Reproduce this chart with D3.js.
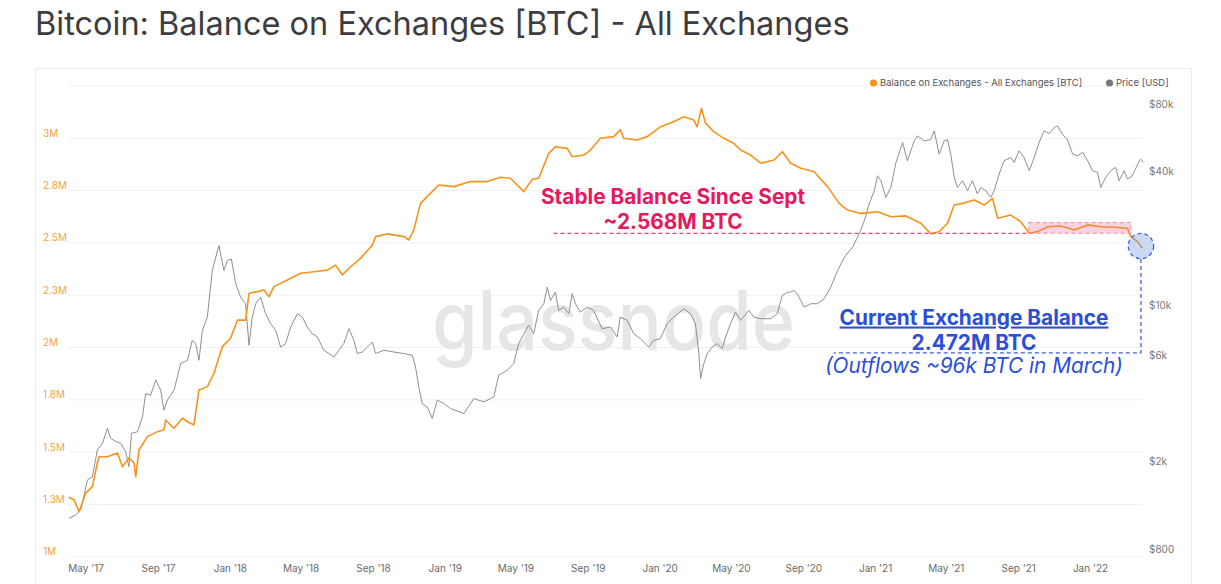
<!DOCTYPE html>
<html lang="en">
<head>
    <meta charset="UTF-8">
    <title>Bitcoin: Balance on Exchanges [BTC] - All Exchanges</title>
    <script src="https://d3js.org/d3.v7.min.js"></script>
    <style>
        body {
            margin: 0;
            padding: 0;
            background-color: #fff;
            font-family: Inter, "Noto Sans", Arial, sans-serif;
        }
        svg { display: block; }
        .tick-label { font-size: 10px; }
        .legend text { font-size: 9.5px; fill: #555; }
    </style>
</head>
<body>
    <div id="chart"></div>

    <script>
        // balance on exchanges, millions of BTC (time as decimal year)
        const balanceTime = [
            2017.25, 2017.275, 2017.298, 2017.329, 2017.360, 2017.383, 2017.391, 2017.430, 2017.477, 2017.500,
            2017.530, 2017.554, 2017.562, 2017.577, 2017.616, 2017.663, 2017.693, 2017.701, 2017.740, 2017.779,
            2017.802, 2017.833, 2017.856, 2017.895, 2017.926, 2017.965, 2018.003, 2018.035, 2018.073, 2018.089,
            2018.128, 2018.158, 2018.182, 2018.205, 2018.267, 2018.329, 2018.391, 2018.453, 2018.492, 2018.523,
            2018.562, 2018.608, 2018.663, 2018.678, 2018.732, 2018.810, 2018.833, 2018.856, 2018.887, 2018.918,
            2018.972, 2019.042, 2019.120, 2019.197, 2019.259, 2019.305, 2019.352, 2019.368, 2019.407, 2019.437,
            2019.484, 2019.515, 2019.570, 2019.593, 2019.647, 2019.678, 2019.724, 2019.786, 2019.817, 2019.833,
            2019.895, 2019.942, 2020.003, 2020.065, 2020.112, 2020.158, 2020.174, 2020.194, 2020.213, 2020.251,
            2020.298, 2020.344, 2020.376, 2020.422, 2020.469, 2020.531, 2020.570, 2020.608, 2020.655, 2020.717,
            2020.779, 2020.833, 2020.872, 2020.934, 2021.012, 2021.073, 2021.143, 2021.213, 2021.259, 2021.298,
            2021.337, 2021.368, 2021.407, 2021.461, 2021.508, 2021.546, 2021.570, 2021.631, 2021.678, 2021.717,
            2021.756, 2021.803, 2021.865, 2021.926, 2021.989, 2022.050, 2022.112, 2022.174, 2022.190, 2022.221,
            2022.244
        ];
        const balanceValue = [
            1.284, 1.271, 1.215, 1.304, 1.335, 1.448, 1.478, 1.478, 1.496, 1.430,
            1.472, 1.448, 1.382, 1.510, 1.574, 1.598, 1.606, 1.653, 1.614, 1.662,
            1.645, 1.630, 1.797, 1.813, 1.877, 2.004, 2.044, 2.131, 2.131, 2.259,
            2.267, 2.275, 2.243, 2.291, 2.323, 2.355, 2.362, 2.370, 2.394, 2.347,
            2.386, 2.426, 2.490, 2.530, 2.543, 2.530, 2.514, 2.562, 2.689, 2.721,
            2.777, 2.769, 2.793, 2.793, 2.814, 2.809, 2.761, 2.745, 2.804, 2.809,
            2.928, 2.960, 2.952, 2.912, 2.920, 2.944, 3.000, 3.008, 3.040, 3.000,
            2.992, 3.008, 3.055, 3.079, 3.103, 3.087, 3.055, 3.143, 3.072, 3.032,
            3.000, 2.976, 2.944, 2.920, 2.881, 2.896, 2.936, 2.881, 2.857, 2.840,
            2.769, 2.689, 2.657, 2.641, 2.649, 2.625, 2.629, 2.594, 2.543, 2.554,
            2.594, 2.681, 2.689, 2.705, 2.681, 2.713, 2.618, 2.633, 2.601, 2.546,
            2.554, 2.577, 2.581, 2.562, 2.586, 2.577, 2.575, 2.570, 2.530, 2.506,
            2.474
        ];

        // BTC price in USD (time as decimal year)
        const priceTime = [
            2017.251, 2017.283, 2017.306, 2017.337, 2017.360, 2017.383, 2017.407, 2017.430, 2017.445, 2017.469,
            2017.492, 2017.515, 2017.530, 2017.542, 2017.570, 2017.593, 2017.608, 2017.631, 2017.655, 2017.678,
            2017.693, 2017.709, 2017.740, 2017.771, 2017.802, 2017.825, 2017.841, 2017.856, 2017.872, 2017.895,
            2017.918, 2017.934, 2017.949, 2017.972, 2017.988, 2018.007, 2018.027, 2018.050, 2018.073, 2018.089,
            2018.104, 2018.120, 2018.143, 2018.166, 2018.190, 2018.213, 2018.236, 2018.259, 2018.283, 2018.314,
            2018.337, 2018.360, 2018.383, 2018.407, 2018.437, 2018.461, 2018.484, 2018.507, 2018.530, 2018.554,
            2018.577, 2018.593, 2018.616, 2018.640, 2018.663, 2018.678, 2018.717, 2018.763, 2018.810, 2018.849,
            2018.864, 2018.879, 2018.895, 2018.918, 2018.942, 2018.965, 2018.996, 2019.027, 2019.089, 2019.135,
            2019.182, 2019.228, 2019.251, 2019.290, 2019.321, 2019.344, 2019.368, 2019.391, 2019.414, 2019.437,
            2019.461, 2019.477, 2019.492, 2019.515, 2019.530, 2019.554, 2019.577, 2019.593, 2019.608, 2019.631,
            2019.663, 2019.693, 2019.732, 2019.771, 2019.802, 2019.817, 2019.849, 2019.879, 2019.910, 2019.949,
            2019.972, 2020.003, 2020.035, 2020.065, 2020.112, 2020.143, 2020.166, 2020.182, 2020.190, 2020.205,
            2020.221, 2020.244, 2020.267, 2020.290, 2020.306, 2020.329, 2020.352, 2020.376, 2020.414, 2020.437,
            2020.469, 2020.515, 2020.546, 2020.569, 2020.593, 2020.608, 2020.623, 2020.639, 2020.670, 2020.701,
            2020.732, 2020.763, 2020.794, 2020.826, 2020.857, 2020.895, 2020.926, 2020.950, 2020.972, 2020.996,
            2021.011, 2021.027, 2021.050, 2021.073, 2021.097, 2021.128, 2021.150, 2021.182, 2021.197, 2021.228,
            2021.259, 2021.275, 2021.298, 2021.321, 2021.337, 2021.352, 2021.368, 2021.383, 2021.407, 2021.430,
            2021.453, 2021.476, 2021.492, 2021.515, 2021.538, 2021.554, 2021.577, 2021.600, 2021.631, 2021.647,
            2021.670, 2021.693, 2021.717, 2021.740, 2021.763, 2021.787, 2021.810, 2021.833, 2021.849, 2021.872,
            2021.895, 2021.919, 2021.942, 2021.966, 2021.989, 2022.012, 2022.035, 2022.050, 2022.073, 2022.097,
            2022.120, 2022.135, 2022.159, 2022.174, 2022.196, 2022.211, 2022.235, 2022.250
        ];
        const priceValue = [
            1107, 1146, 1210, 1645, 1700, 2243, 2400, 2807, 2533, 2447,
            2400, 2204, 1888, 2664, 2708, 3160, 4020, 3950, 4617, 4163,
            3383, 3755, 4163, 5480, 5670, 6970, 6740, 5670, 7730, 8860,
            14350, 16460, 18570, 14350, 15910, 16160, 12510, 10890, 10180, 6620,
            8860, 10180, 10890, 9180, 8280, 7730, 6500, 6740, 8000, 9180,
            8860, 8000, 7470, 7220, 6290, 6080, 5870, 6290, 6740, 7860,
            6970, 6080, 6180, 6500, 6850, 6080, 6290, 6180, 6080, 5970,
            5290, 4305, 3627, 3500, 3110, 3755, 3627, 3440, 3270, 3818,
            3690, 3880, 4860, 5110, 5480, 6740, 7470, 8140, 7470, 9500,
            10180, 12080, 10530, 11470, 9500, 9830, 9180, 11280, 10180, 9330,
            9830, 9500, 7860, 8000, 7220, 8860, 8570, 7470, 7090, 6500,
            6970, 7090, 8280, 8860, 9665, 9180, 8280, 6080, 4700, 5480,
            6080, 6500, 6740, 6390, 7220, 8280, 9330, 8570, 9500, 8860,
            8720, 8720, 9180, 11080, 11470, 11470, 11670, 11280, 9830, 10180,
            10180, 10710, 12080, 14350, 16460, 18250, 20950, 24030, 28540, 32750,
            38230, 36300, 30560, 33870, 43850, 53900, 44620, 54840, 57750, 54840,
            55500, 60800, 47800, 54840, 55500, 47800, 37560, 33870, 36300, 32750,
            36300, 31650, 33870, 32750, 30560, 32750, 38900, 44620, 46170, 43850,
            49470, 46170, 40250, 46170, 53900, 60800, 59100, 62900, 64000, 58600,
            55500, 47800, 46980, 48700, 44620, 40250, 39560, 33870, 37560, 40250,
            41640, 36300, 40250, 36900, 38230, 40900, 45400, 43850
        ];

        // axis ticks
        const balanceTicks = [1, 1.25, 1.5, 1.75, 2, 2.25, 2.5, 2.75, 3];
        const balanceTickLabels = ["1M", "1.3M", "1.5M", "1.8M", "2M", "2.3M", "2.5M", "2.8M", "3M"];
        const gridTicks = [1, 1.25, 1.5, 1.75, 2, 2.25, 2.5, 2.75, 3, 3.25];
        const priceTicks = [800, 2000, 6000, 10000, 40000, 80000];
        const priceTickLabels = ["$800", "$2k", "$6k", "$10k", "$40k", "$80k"];

        // annotation values
        const stableLevel = 2.546;
        const stableStart = 2019.506;
        const stableBox = { t0: 2021.715, t1: 2022.19, v0: 2.546, v1: 2.597 };
        const currentPoint = { t: 2022.237, v: 2.485 };
        const calloutLevel = 1.974;
        const calloutStart = 2020.808;

        const W = 1221, H = 584;
        const plot = { left: 68, right: 1143, top: 86, bottom: 556.7 };

        // decimal year -> Date
        const toDate = t => {
            const y = Math.floor(t);
            const a = Date.UTC(y, 0, 1), b = Date.UTC(y + 1, 0, 1);
            return new Date(a + (t - y) * (b - a));
        };

        const balanceData = balanceTime.map((t, i) => ({ date: toDate(t), v: balanceValue[i] }));
        const priceData = priceTime.map((t, i) => ({ date: toDate(t), p: priceValue[i] }));

        const svg = d3.select("#chart")
            .append("svg")
            .attr("width", W)
            .attr("height", H);

        const x = d3.scaleUtc()
            .domain([new Date(Date.UTC(2017, 3, 1)), new Date(Date.UTC(2022, 3, 1))])
            .range([plot.left, plot.right]);

        const yBal = d3.scaleLinear()
            .domain([1, 3.25])
            .range([plot.bottom, plot.top]);

        const yPrice = d3.scaleLog()
            .domain([744, 96700])
            .range([plot.bottom, plot.top]);

        // title
        svg.append("text")
            .attr("x", 35)
            .attr("y", 35)
            .attr("fill", "#3c3c41")
            .style("font-size", "32.5px")
            .text("Bitcoin: Balance on Exchanges [BTC] - All Exchanges");

        // card
        svg.append("rect")
            .attr("x", 35.5)
            .attr("y", 68.5)
            .attr("width", 1156)
            .attr("height", 540)
            .attr("fill", "#fff")
            .attr("stroke", "#ededed");

        // grid
        svg.append("g")
            .selectAll("line")
            .data(gridTicks)
            .join("line")
            .attr("x1", plot.left)
            .attr("x2", plot.right)
            .attr("y1", d => yBal(d))
            .attr("y2", d => yBal(d))
            .attr("stroke", "#f1f1f1");

        // watermark
        svg.append("text")
            .attr("x", 432)
            .attr("y", 350)
            .attr("textLength", 363)
            .attr("lengthAdjust", "spacingAndGlyphs")
            .attr("fill", "#e6e6e6")
            .style("font-size", "82px")
            .style("font-weight", 500)
            .text("glassnode");

        // left axis
        const leftAxis = svg.append("g")
            .attr("transform", `translate(${plot.left},0)`)
            .call(d3.axisLeft(yBal).tickValues(balanceTicks)
                .tickFormat((d, i) => balanceTickLabels[i]).tickSize(0).tickPadding(25));
        leftAxis.select(".domain").remove();
        leftAxis.selectAll("text")
            .attr("class", "tick-label")
            .attr("text-anchor", "start")
            .attr("x", -25)
            .attr("dy", "-0.2em")
            .attr("fill", "#f2a540")
            .style("font-family", "Inter");

        // right axis
        const rightAxis = svg.append("g")
            .attr("transform", `translate(${plot.right},0)`)
            .call(d3.axisRight(yPrice).tickValues(priceTicks)
                .tickFormat((d, i) => priceTickLabels[i]).tickSize(0).tickPadding(6));
        rightAxis.select(".domain").remove();
        rightAxis.selectAll("text")
            .attr("class", "tick-label")
            .attr("fill", "#777")
            .style("font-family", "Inter");

        // bottom axis
        const bottomAxis = svg.append("g")
            .attr("transform", `translate(0,${plot.bottom})`)
            .call(d3.axisBottom(x).ticks(d3.utcMonth.every(4))
                .tickFormat(d3.utcFormat("%b '%y")).tickSize(0).tickPadding(8));
        bottomAxis.select(".domain").remove();
        bottomAxis.selectAll("text")
            .attr("class", "tick-label")
            .attr("fill", "#6b6b6b")
            .style("font-family", "Inter");

        // price line
        svg.append("path")
            .datum(priceData)
            .attr("fill", "none")
            .attr("stroke", "#8f8f8f")
            .attr("stroke-width", 1)
            .attr("d", d3.line().x(d => x(d.date)).y(d => yPrice(d.p)));

        // balance line
        svg.append("path")
            .datum(balanceData)
            .attr("fill", "none")
            .attr("stroke", "#f7931a")
            .attr("stroke-width", 1.6)
            .attr("stroke-linejoin", "round")
            .attr("d", d3.line().x(d => x(d.date)).y(d => yBal(d.v)));

        // legend
        const legend = svg.append("g").attr("class", "legend");
        legend.append("circle").attr("cx", 873.5).attr("cy", 83).attr("r", 3.6).attr("fill", "#f7931a");
        legend.append("text").attr("x", 880).attr("y", 86.3).text("Balance on Exchanges - All Exchanges [BTC]");
        legend.append("circle").attr("cx", 1109.5).attr("cy", 83).attr("r", 3.6).attr("fill", "#777");
        legend.append("text").attr("x", 1116).attr("y", 86.3).text("Price [USD]");

        // stable balance annotation
        const pink = "#e5195e";
        svg.append("rect")
            .attr("x", x(toDate(stableBox.t0)))
            .attr("y", yBal(stableBox.v1))
            .attr("width", x(toDate(stableBox.t1)) - x(toDate(stableBox.t0)))
            .attr("height", yBal(stableBox.v0) - yBal(stableBox.v1))
            .attr("fill", "rgba(245, 110, 140, 0.3)")
            .attr("stroke", "#f08aa8")
            .attr("stroke-dasharray", "4,3");

        svg.append("line")
            .attr("x1", x(toDate(stableStart)))
            .attr("x2", x(toDate(stableBox.t0)))
            .attr("y1", yBal(stableLevel))
            .attr("y2", yBal(stableLevel))
            .attr("stroke", "#e0457b")
            .attr("stroke-width", 1.3)
            .attr("stroke-dasharray", "4,3");

        svg.append("text")
            .attr("x", 673)
            .attr("y", 203.5)
            .attr("text-anchor", "middle")
            .attr("fill", pink)
            .style("font-size", "20.8px")
            .style("font-weight", 700)
            .text("Stable Balance Since Sept");
        svg.append("text")
            .attr("x", 673)
            .attr("y", 229)
            .attr("text-anchor", "middle")
            .attr("fill", pink)
            .style("font-size", "20.8px")
            .style("font-weight", 700)
            .text("~2.568M BTC");

        // current balance callout
        const blue = "#2b4fd6";
        const cx = x(toDate(currentPoint.t)), cy = yBal(currentPoint.v);
        svg.append("path")
            .attr("fill", "none")
            .attr("stroke", "#3f63d8")
            .attr("stroke-width", 1.3)
            .attr("stroke-dasharray", "4,3")
            .attr("d", `M${cx},${cy + 13} V${yBal(calloutLevel)} H${x(toDate(calloutStart))}`);
        svg.append("circle")
            .attr("cx", cx)
            .attr("cy", cy)
            .attr("r", 12.7)
            .attr("fill", "rgba(110, 145, 225, 0.35)")
            .attr("stroke", "#3f63d8")
            .attr("stroke-width", 1.3)
            .attr("stroke-dasharray", "4,3");

        svg.append("text")
            .attr("x", 974)
            .attr("y", 324.5)
            .attr("text-anchor", "middle")
            .attr("fill", blue)
            .style("font-size", "20.8px")
            .style("font-weight", 700)
            .style("text-decoration", "underline")
            .text("Current Exchange Balance");
        svg.append("text")
            .attr("x", 974)
            .attr("y", 350)
            .attr("text-anchor", "middle")
            .attr("fill", blue)
            .style("font-size", "20.8px")
            .style("font-weight", 700)
            .text("2.472M BTC");
        svg.append("text")
            .attr("x", 974)
            .attr("y", 373)
            .attr("text-anchor", "middle")
            .attr("fill", blue)
            .style("font-size", "20.8px")
            .style("font-style", "italic")
            .text("(Outflows ~96k BTC in March)");
    </script>
</body>
</html>
